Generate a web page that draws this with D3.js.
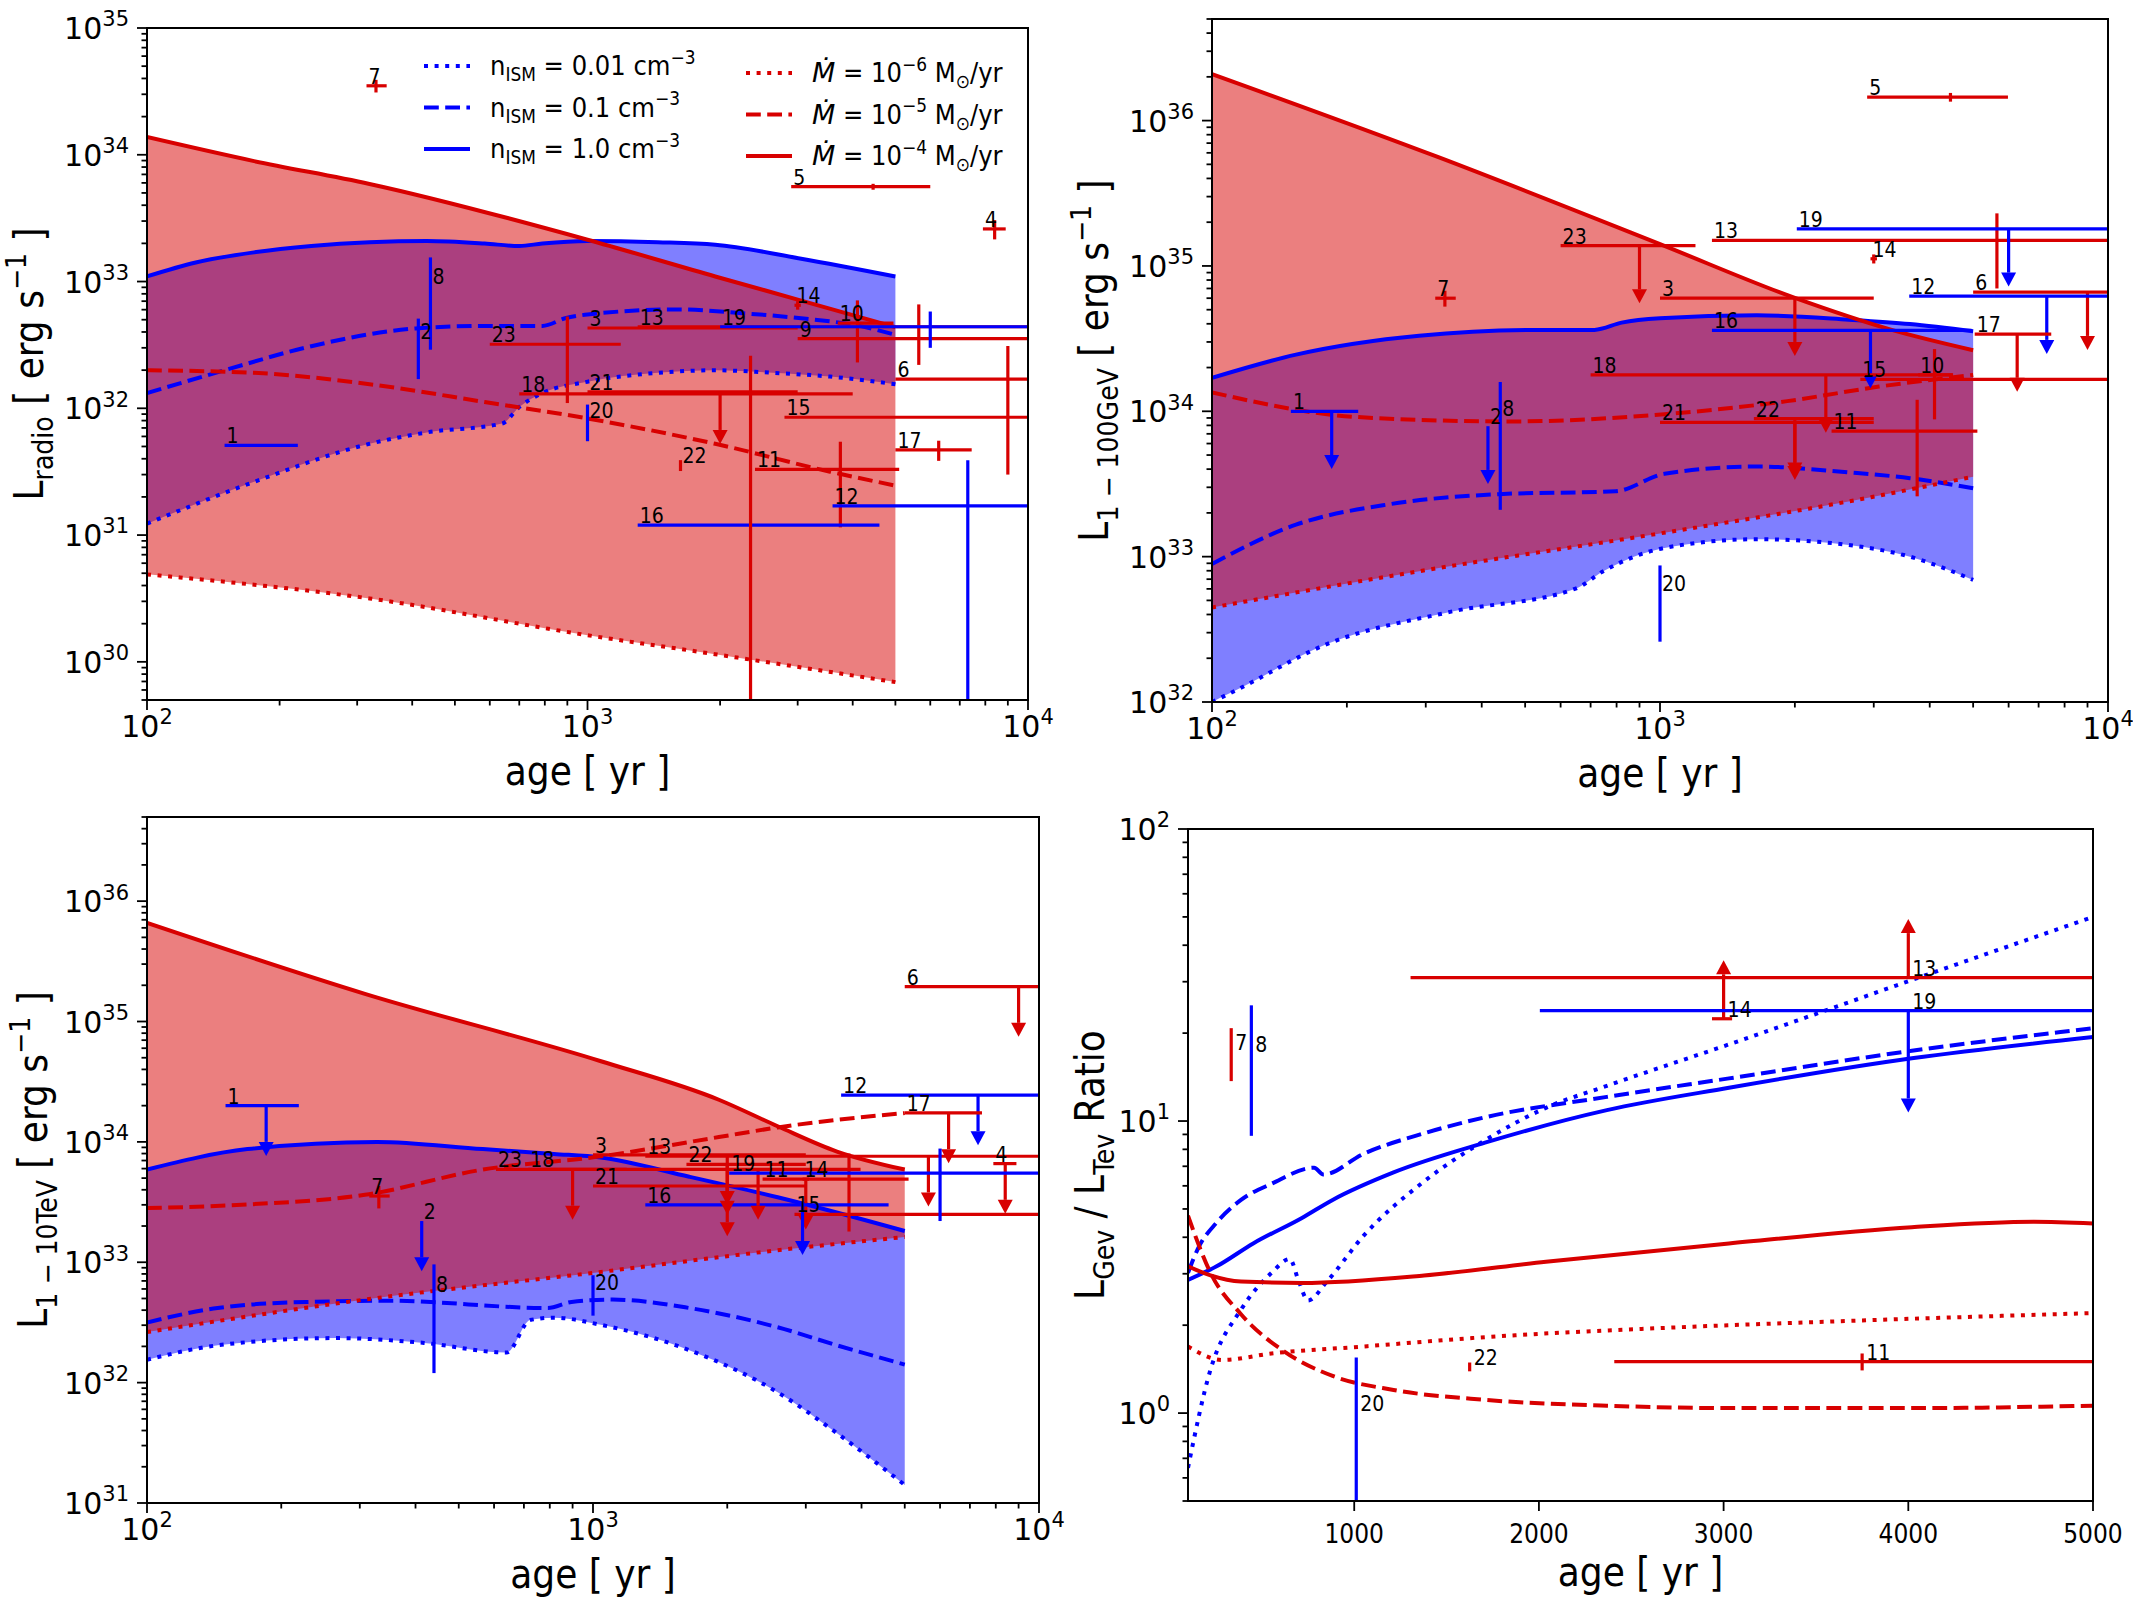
<!DOCTYPE html>
<html><head><meta charset="utf-8">
<script src="https://cdnjs.cloudflare.com/ajax/libs/d3/7.8.5/d3.min.js"></script>
<style>html,body{margin:0;padding:0;background:#fff}</style>
</head><body>
<svg id="fig" width="2133" height="1600" xmlns="http://www.w3.org/2000/svg"></svg>
<script>
// ================= DATA =================
// Model curves, panels 1-3: [age (yr), log10 L (erg/s)]
const radioN001 = [[100,31.09],[175,31.42],[320,31.72],[432,31.81],[640,31.88],[700,32.01],[790,32.12],[1000,32.21],[1444,32.28],[1950,32.30],[2635,32.28],[3555,32.25],[5000,32.19]];
const radioN01  = [[100,32.12],[150,32.30],[236,32.49],[407,32.63],[584,32.65],[790,32.65],[890,32.71],[1000,32.74],[1600,32.78],[2250,32.75],[3056,32.71],[4140,32.65],[5000,32.58]];
const radioN1   = [[100,33.04],[129,33.15],[175,33.23],[236,33.28],[320,33.31],[432,33.32],[584,33.30],[700,33.28],[790,33.30],[1000,33.32],[1444,33.31],[1950,33.29],[3056,33.18],[5000,33.04]];
const radioM6   = [[100,30.69],[320,30.50],[1000,30.21],[1950,30.06],[5000,29.84]];
const radioM5   = [[100,32.30],[175,32.28],[320,32.19],[584,32.05],[1000,31.92],[1950,31.72],[3555,31.50],[5000,31.39]];
const radioM4   = [[100,34.14],[175,33.95],[320,33.77],[1000,33.33],[1950,33.04],[3056,32.85],[5000,32.64]];

const gevN001 = [[100,32.00],[113,32.08],[181,32.40],[340,32.62],[648,32.78],[747,32.90],[1023,33.06],[1644,33.12],[2636,33.08],[3613,33.00],[5000,32.84]];
const gevN01  = [[100,32.95],[154,33.22],[248,33.36],[437,33.43],[796,33.45],[1023,33.57],[1644,33.62],[2636,33.58],[3613,33.54],[5000,33.47]];
const gevN1   = [[100,34.23],[154,34.39],[290,34.52],[545,34.56],[714,34.56],[821,34.61],[1000,34.64],[1644,34.66],[2636,34.63],[3613,34.60],[5000,34.55]];
const gevM6   = [[100,32.65],[290,32.90],[1000,33.16],[2636,33.38],[5000,33.55]];
const gevM5   = [[100,34.13],[212,33.96],[466,33.93],[1023,33.98],[1923,34.07],[3083,34.17],[5000,34.25]];
const gevM4   = [[100,36.32],[319,35.75],[1000,35.15],[2000,34.78],[3290,34.56],[5000,34.42]];

const tevN001 = [[100,32.19],[144,32.31],[265,32.37],[418,32.33],[640,32.25],[723,32.52],[817,32.54],[1042,32.48],[1644,32.27],[2594,31.92],[3524,31.58],[5000,31.15]];
const tevN01  = [[100,32.50],[144,32.62],[227,32.67],[349,32.68],[792,32.62],[895,32.67],[1107,32.69],[1644,32.62],[2594,32.46],[3524,32.31],[5000,32.15]];
const tevN1   = [[100,33.77],[168,33.94],[328,34.00],[566,33.94],[817,33.90],[1042,33.87],[1644,33.71],[2594,33.54],[5000,33.26]];
const tevM6   = [[100,32.42],[308,32.69],[1042,32.92],[2594,33.10],[5000,33.21]];
const tevM5   = [[100,33.45],[168,33.48],[308,33.56],[566,33.77],[1042,33.88],[1915,34.04],[2594,34.12],[5000,34.24]];
const tevM4   = [[100,35.82],[308,35.23],[1042,34.67],[1915,34.35],[2594,34.13],[3524,33.92],[5000,33.77]];

// Panel 4: [age (yr), L_GeV / L_TeV]
const ratioN001 = [[100,0.65],[222,1.41],[387,2.26],[552,3.02],[651,3.37],[701,2.81],[750,2.43],[850,2.81],[1048,4.03],[1378,6.21],[1708,8.59],[2038,11.1],[2368,13.2],[3029,18.3],[4019,30.4],[5000,50.0]];
const ratioN01  = [[100,3.02],[156,3.68],[255,4.49],[387,5.37],[552,6.10],[783,6.92],[833,6.56],[1048,7.71],[1378,9.08],[1708,10.3],[2368,12.1],[3029,14.0],[4019,17.4],[5000,20.8]];
const ratioN1   = [[100,2.86],[255,3.18],[453,3.81],[717,4.66],[883,5.37],[1213,6.67],[1708,8.43],[2368,10.9],[3029,13.0],[4019,16.4],[5000,19.4]];
const ratioM6   = [[100,1.69],[288,1.52],[552,1.60],[1048,1.69],[1708,1.82],[2699,1.96],[3689,2.07],[5000,2.20]];
const ratioM5   = [[100,4.74],[222,3.02],[387,2.18],[618,1.63],[883,1.34],[1213,1.20],[1708,1.11],[2368,1.06],[3029,1.04],[4019,1.04],[5000,1.06]];
const ratioM4   = [[100,3.18],[222,2.96],[387,2.82],[717,2.79],[1378,2.96],[2038,3.30],[3029,3.81],[4019,4.33],[4680,4.52],[5000,4.46]];

// Observed SNe: id, colour, age, age range [lo,hi], value, symmetric error, limit type
const radioPoints = [
 {id:1,c:'b',age:185,lo:150,hi:220,v:5.1e31,err:0},
 {id:2,c:'b',age:413,lo:413,hi:413,v:3.4e32,err:1.7e32},
 {id:3,c:'r',age:2000,lo:1000,hi:3000,v:4.3e32,err:0},
 {id:4,c:'r',age:8400,lo:7900,hi:8900,v:2.6e33,err:0.45e33},
 {id:5,c:'r',age:4450,lo:2900,hi:6000,v:5.6e33,err:0.3e33},
 {id:6,c:'r',age:9000,lo:5000,hi:20000,v:1.7e32,err:1.4e32},
 {id:7,c:'r',age:331,lo:315,hi:350,v:3.5e34,err:0.4e34},
 {id:8,c:'b',age:440,lo:440,hi:440,v:9.2e32,err:6.3e32},
 {id:9,c:'r',age:12000,lo:3000,hi:20000,v:3.55e32,err:0},
 {id:10,c:'r',age:4100,lo:3700,hi:4950,v:4.7e32,err:2.4e32},
 {id:11,c:'r',age:3750,lo:2400,hi:5100,v:3.3e31,err:2.15e31},
 {id:12,c:'b',age:7300,lo:3600,hi:20000,v:1.7e31,err:2.2e31},
 {id:13,c:'r',age:5650,lo:1300,hi:20000,v:4.4e32,err:2.2e32},
 {id:14,c:'r',age:3000,lo:2950,hi:3050,v:6.5e32,err:0.5e32},
 {id:15,c:'r',age:12000,lo:2800,hi:20000,v:8.5e31,err:0},
 {id:16,c:'b',age:2950,lo:1300,hi:4600,v:1.2e31,err:0},
 {id:17,c:'r',age:6270,lo:5000,hi:7450,v:4.7e31,err:0.85e31},
 {id:18,c:'r',age:2345,lo:700,hi:4000,v:1.3e32,err:1.3e32},
 {id:19,c:'b',age:6000,lo:2000,hi:20000,v:4.4e32,err:1.4e32},
 {id:20,c:'b',age:1000,lo:1000,hi:1000,v:8.1e31,err:2.6e31},
 {id:21,c:'r',age:2000,lo:1000,hi:3000,v:1.35e32,err:0,lim:'ul'},
 {id:22,c:'r',age:1626,lo:1626,hi:1626,v:3.55e31,err:0.35e31},
 {id:23,c:'r',age:900,lo:600,hi:1190,v:3.2e32,err:2.1e32}
];
const gevPoints = [
 {id:1,c:'b',age:185,lo:150,hi:212,v:1.0e34,err:0,lim:'ul'},
 {id:2,c:'b',age:413,lo:413,hi:413,v:7.9e33,err:0,lim:'ul'},
 {id:3,c:'r',age:2000,lo:1000,hi:3000,v:6.0e34,err:0,lim:'ul'},
 {id:5,c:'r',age:4450,lo:2900,hi:5980,v:1.45e36,err:0.1e36},
 {id:6,c:'r',age:9000,lo:5000,hi:20000,v:6.6e34,err:0,lim:'ul'},
 {id:7,c:'r',age:331,lo:315,hi:350,v:6.0e34,err:0.75e34},
 {id:8,c:'b',age:440,lo:440,hi:440,v:9.0e33,err:6.9e33},
 {id:10,c:'r',age:4100,lo:3770,hi:4500,v:1.78e34,err:0.9e34},
 {id:11,c:'r',age:3750,lo:2415,hi:5110,v:7.3e33,err:4.7e33},
 {id:12,c:'b',age:7300,lo:3600,hi:20000,v:6.2e34,err:0,lim:'ul'},
 {id:13,c:'r',age:5650,lo:1306,hi:20000,v:1.5e35,err:0.8e35},
 {id:14,c:'r',age:3000,lo:2950,hi:3050,v:1.12e35,err:0.08e35},
 {id:15,c:'r',age:12000,lo:2800,hi:20000,v:1.66e34,err:0},
 {id:16,c:'b',age:2950,lo:1306,hi:4960,v:3.6e34,err:0,lim:'ul'},
 {id:17,c:'r',age:6270,lo:5040,hi:7470,v:3.4e34,err:0,lim:'ul'},
 {id:18,c:'r',age:2345,lo:700,hi:4510,v:1.78e34,err:0,lim:'ul'},
 {id:19,c:'b',age:6000,lo:2020,hi:20000,v:1.8e35,err:0,lim:'ul'},
 {id:20,c:'b',age:1000,lo:1000,hi:1000,v:5.65e32,err:3.05e32},
 {id:21,c:'r',age:2000,lo:1000,hi:3000,v:8.4e33,err:0,lim:'ul'},
 {id:22,c:'r',age:2000,lo:1620,hi:3000,v:8.9e33,err:0,lim:'ul'},
 {id:23,c:'r',age:900,lo:600,hi:1200,v:1.38e35,err:0,lim:'ul'}
];
const tevPoints = [
 {id:1,c:'b',age:185,lo:150,hi:219,v:2.0e34,err:0,lim:'ul'},
 {id:2,c:'b',age:413,lo:413,hi:413,v:2.2e33,err:0,lim:'ul'},
 {id:3,c:'r',age:2000,lo:1000,hi:3000,v:7.8e33,err:0,lim:'ul'},
 {id:4,c:'r',age:8400,lo:7900,hi:8900,v:6.6e33,err:0,lim:'ul'},
 {id:6,c:'r',age:9000,lo:5000,hi:20000,v:1.95e35,err:0,lim:'ul'},
 {id:7,c:'r',age:331,lo:315,hi:350,v:3.55e33,err:0.75e33},
 {id:8,c:'b',age:440,lo:440,hi:440,v:5.4e32,err:4.2e32},
 {id:11,c:'r',age:3750,lo:2400,hi:5100,v:4.9e33,err:3.1e33},
 {id:12,c:'b',age:7300,lo:3600,hi:20000,v:2.45e34,err:0,lim:'ul'},
 {id:13,c:'r',age:5650,lo:1310,hi:20000,v:7.6e33,err:0,lim:'ul'},
 {id:14,c:'r',age:3000,lo:2950,hi:3050,v:4.9e33,err:0,lim:'ul'},
 {id:15,c:'r',age:12000,lo:2830,hi:20000,v:2.5e33,err:0},
 {id:16,c:'b',age:2950,lo:1310,hi:4600,v:3.0e33,err:0,lim:'ul'},
 {id:17,c:'r',age:6270,lo:5000,hi:7450,v:1.74e34,err:0,lim:'ul'},
 {id:18,c:'r',age:2345,lo:716,hi:3980,v:5.9e33,err:0,lim:'ul'},
 {id:19,c:'b',age:6000,lo:2020,hi:20000,v:5.5e33,err:3.3e33},
 {id:20,c:'b',age:1000,lo:1000,hi:1000,v:5.7e32,err:2.1e32},
 {id:21,c:'r',age:2000,lo:1000,hi:3000,v:4.3e33,err:0,lim:'ul'},
 {id:22,c:'r',age:2000,lo:1620,hi:3000,v:6.5e33,err:0,lim:'ul'},
 {id:23,c:'r',age:900,lo:606,hi:1190,v:5.9e33,err:0,lim:'ul'}
];
const ratioPoints = [
 {id:7,c:'r',age:334,lo:334,hi:334,v:17.25,err:3.55},
 {id:8,c:'b',age:443,lo:443,hi:443,v:16.9,err:8.0},
 {id:11,c:'r',age:3750,lo:2408,hi:5100,v:1.50,err:0.1},
 {id:13,c:'r',age:4000,lo:1305,hi:20000,v:31.0,err:0,lim:'ll'},
 {id:14,c:'r',age:3000,lo:2937,hi:3046,v:22.4,err:0,lim:'ll'},
 {id:19,c:'b',age:4000,lo:2005,hi:20000,v:23.9,err:0,lim:'ul'},
 {id:20,c:'b',age:1011,lo:1011,hi:1011,v:1.0,err:0.55},
 {id:22,c:'r',age:1625,lo:1625,hi:1625,v:1.44,err:0.05}
];

// tick values / labels
const ageTicksLinear = [1000,2000,3000,4000,5000];
const legendItems = [
 {col:0,row:0,c:'b',style:'dot',  parts:[['n'],['ISM','sub'],[' = 0.01 cm'],['−3','sup']]},
 {col:0,row:1,c:'b',style:'dash', parts:[['n'],['ISM','sub'],[' = 0.1 cm'],['−3','sup']]},
 {col:0,row:2,c:'b',style:'solid',parts:[['n'],['ISM','sub'],[' = 1.0 cm'],['−3','sup']]},
 {col:1,row:0,c:'r',style:'dot',  parts:[['Ṁ','it'],[' = 10'],['−6','sup'],[' M'],['⊙','sub'],['/yr']]},
 {col:1,row:1,c:'r',style:'dash', parts:[['Ṁ','it'],[' = 10'],['−5','sup'],[' M'],['⊙','sub'],['/yr']]},
 {col:1,row:2,c:'r',style:'solid',parts:[['Ṁ','it'],[' = 10'],['−4','sup'],[' M'],['⊙','sub'],['/yr']]}
];

// ================= STYLE =================
const COL = {r:'#d80000', b:'#0000ff'};
const FILL = {r:'rgba(216,0,0,0.5)', b:'rgba(0,0,255,0.5)'};
const LW = 4, EW = 3.2;
const DASH = {dot:'4,6.6', dash:'14.8,6.4', solid:null};
function hasFont(name){
  const c=document.createElement('canvas').getContext('2d');
  const t='age [ yr ] 1000 mmwwii';
  c.font='40px monospace'; const a=c.measureText(t).width;
  c.font='40px "'+name+'", monospace'; const b=c.measureText(t).width;
  return Math.abs(a-b)>0.5;
}
const condOK = hasFont('DejaVu Sans Condensed');
const FONT_C = condOK ? '"DejaVu Sans Condensed"' : '"DejaVu Sans"';
const FONT_M = '"DejaVu Sans"';

const svg = d3.select('#fig');

function rich(sel, parts, fs){
  let shift=0;
  parts.forEach(([t,k])=>{
    let target=0, size=fs;
    if(k==='sub'){target=0.24*fs; size=0.7*fs;}
    if(k==='sup'){target=-0.42*fs; size=0.7*fs;}
    const ts=sel.append('tspan').text(t).attr('font-size',size);
    if(target-shift!==0) ts.attr('dy',target-shift);
    if(k==='it') ts.attr('font-style','italic').attr('font-family',FONT_M);
    shift=target;
  });
}

const panels = [
 {name:'p1', x0:147, x1:1028, y0:28, y1:700, xlog:true, xd:[100,1e4], yd:[5e29,1e35], logv:true, fill:true,
  curves:{n001:radioN001,n01:radioN01,n1:radioN1,m6:radioM6,m5:radioM5,m4:radioM4},
  points:radioPoints, labelAt:'lo', ylab:[['L'],['radio','sub'],[' [ erg s'],['−1','sup'],[' ]']], ylabX:43, legend:true},
 {name:'p2', x0:1212, x1:2108, y0:19, y1:702, xlog:true, xd:[100,1e4], yd:[1e32,5e36], logv:true, fill:true,
  curves:{n001:gevN001,n01:gevN01,n1:gevN1,m6:gevM6,m5:gevM5,m4:gevM4},
  points:gevPoints, labelAt:'lo', ylab:[['L'],['1 − 100GeV','sub'],[' [ erg s'],['−1','sup'],[' ]']], ylabX:1108},
 {name:'p3', x0:147, x1:1039, y0:817, y1:1503, xlog:true, xd:[100,1e4], yd:[1e31,5e36], logv:true, fill:true,
  curves:{n001:tevN001,n01:tevN01,n1:tevN1,m6:tevM6,m5:tevM5,m4:tevM4},
  points:tevPoints, labelAt:'lo', ylab:[['L'],['1 − 10TeV','sub'],[' [ erg s'],['−1','sup'],[' ]']], ylabX:47},
 {name:'p4', x0:1188, x1:2093, y0:829, y1:1501, xlog:false, xd:[100,5000], yd:[0.5,100], logv:false, fill:false,
  curves:{n001:ratioN001,n01:ratioN01,n1:ratioN1,m6:ratioM6,m5:ratioM5,m4:ratioM4},
  points:ratioPoints, labelAt:'age', ylab:[['L'],['Gev','sub'],[' / L'],['Tev','sub'],[' Ratio']], ylabX:1104}
];

function logTicks(d){
  const majors=[], minors=[];
  const lo=Math.floor(Math.log10(d[0])-1e-9), hi=Math.ceil(Math.log10(d[1])+1e-9);
  for(let e=lo;e<=hi;e++){
    const v=Math.pow(10,e);
    if(v>=d[0]*0.999 && v<=d[1]*1.001) majors.push(e);
    for(let k=2;k<=9;k++){const m=k*v; if(m>=d[0]*0.999 && m<=d[1]*1.001) minors.push(m);}
  }
  return {majors,minors};
}

panels.forEach(P=>{
  const g=svg.append('g');
  const x=(P.xlog?d3.scaleLog():d3.scaleLinear()).domain(P.xd).range([P.x0,P.x1]);
  const y=d3.scaleLog().domain(P.yd).range([P.y1,P.y0]);
  const val = P.logv ? (v=>Math.pow(10,v)) : (v=>v);
  const clipId='clip-'+P.name;
  svg.append('clipPath').attr('id',clipId).append('rect')
    .attr('x',P.x0).attr('y',P.y0).attr('width',P.x1-P.x0).attr('height',P.y1-P.y0);
  const plot=g.append('g').attr('clip-path','url(#'+clipId+')');
  const line=d3.line().x(d=>x(d[0])).y(d=>y(val(d[1]))).curve(d3.curveMonotoneX);
  const C=P.curves;
  if(P.fill){
    [['b',C.n001,C.n1],['r',C.m6,C.m4]].forEach(([c,lower,upper])=>{
      const up=line(upper);
      const lowRev=line(lower.slice().reverse()).replace(/^M/,'L');
      plot.append('path').attr('d',up+lowRev+'Z').attr('fill',FILL[c]).attr('stroke','none');
    });
  }
  [['b','dot',C.n001],['b','dash',C.n01],['b','solid',C.n1],['r','dot',C.m6],['r','dash',C.m5],['r','solid',C.m4]]
   .forEach(([c,st,data])=>{
    const p=plot.append('path').attr('d',line(data)).attr('fill','none')
      .attr('stroke',COL[c]).attr('stroke-width',LW).attr('stroke-linejoin','round');
    if(DASH[st]) p.attr('stroke-dasharray',DASH[st]);
  });
  // observed points
  const labG=g.append('g');
  P.points.forEach(p=>{
    const col=COL[p.c];
    const py=y(p.v), px=x(p.age);
    const seg=(x1,y1,x2,y2)=>plot.append('line').attr('x1',x1).attr('y1',y1).attr('x2',x2).attr('y2',y2)
        .attr('stroke',col).attr('stroke-width',EW);
    if(p.hi>p.lo) seg(x(p.lo),py,x(p.hi),py);
    if(p.err>0){
      const top=y(p.v+p.err);
      const bot=(p.v-p.err>0)?y(p.v-p.err):P.y1+20;
      seg(px,top,px,bot);
    }
    if(p.lim==='ul'){
      const e=y(p.v*0.5);
      seg(px,py,px,e);
      plot.append('path').attr('d',`M${px-7.5},${e}L${px+7.5},${e}L${px},${e+14}Z`).attr('fill',col);
    }
    if(p.lim==='ll'){
      const e=y(p.v*1.42);
      seg(px,py,px,e);
      plot.append('path').attr('d',`M${px-7.5},${e}L${px+7.5},${e}L${px},${e-14}Z`).attr('fill',col);
    }
    const lx = P.labelAt==='lo' ? x(p.lo)+2 : px+4;
    labG.append('text').attr('class','cond').attr('x',lx).attr('y',py-2)
      .attr('font-family',FONT_C).attr('font-size',21).attr('fill','#000').text(p.id);
  });
  // spines
  g.append('rect').attr('x',P.x0).attr('y',P.y0).attr('width',P.x1-P.x0).attr('height',P.y1-P.y0)
    .attr('fill','none').attr('stroke','#000').attr('stroke-width',2);
  const tk=(x1,y1,x2,y2)=>g.append('line').attr('x1',x1).attr('y1',y1).attr('x2',x2).attr('y2',y2)
    .attr('stroke','#000').attr('stroke-width',1.8);
  // y ticks (log)
  const yt=logTicks(P.yd);
  yt.minors.forEach(m=>tk(P.x0-5.5,y(m),P.x0,y(m)));
  yt.majors.forEach(e=>{
    const yy=y(Math.pow(10,e));
    tk(P.x0-10,yy,P.x0,yy);
    const t=g.append('text').attr('x',P.x0-18).attr('y',yy+11).attr('text-anchor','end')
      .attr('font-family',FONT_M).attr('fill','#000');
    rich(t,[['10'],[String(e),'sup']],30);
  });
  // x ticks
  if(P.xlog){
    const xt=logTicks(P.xd);
    xt.minors.forEach(m=>tk(x(m),P.y1,x(m),P.y1+5.5));
    xt.majors.forEach(e=>{
      const xx=x(Math.pow(10,e));
      tk(xx,P.y1,xx,P.y1+10);
      const t=g.append('text').attr('x',xx).attr('y',P.y1+37).attr('text-anchor','middle')
        .attr('font-family',FONT_M).attr('fill','#000');
      rich(t,[['10'],[String(e),'sup']],30);
    });
  } else {
    ageTicksLinear.forEach(v=>{
      const xx=x(v);
      tk(xx,P.y1,xx,P.y1+10);
      g.append('text').attr('class','cond').attr('x',xx).attr('y',P.y1+42).attr('text-anchor','middle')
        .attr('font-family',FONT_C).attr('font-size',26).attr('fill','#000').text(v);
    });
  }
  // axis labels
  g.append('text').attr('class','cond').attr('x',(P.x0+P.x1)/2).attr('y',P.y1+85).attr('text-anchor','middle')
    .attr('font-family',FONT_C).attr('font-size',40).attr('fill','#000').text('age [ yr ]');
  const yl=g.append('text').attr('class','cond').attr('text-anchor','middle')
    .attr('transform',`translate(${P.ylabX},${(P.y0+P.y1)/2}) rotate(-90)`)
    .attr('font-family',FONT_C).attr('fill','#000');
  rich(yl,P.ylab,40);
  // legend
  if(P.legend){
    const lx=[424,746], ly=[66,73], dy=41.5;
    legendItems.forEach(it=>{
      const yy=ly[it.col]+it.row*dy, xx=lx[it.col];
      const l=g.append('line').attr('x1',xx).attr('x2',xx+46).attr('y1',yy).attr('y2',yy)
        .attr('stroke',COL[it.c]).attr('stroke-width',LW);
      if(DASH[it.style]) l.attr('stroke-dasharray',DASH[it.style]);
      const t=g.append('text').attr('class','cond').attr('x',xx+66).attr('y',yy+9)
        .attr('font-family',FONT_C).attr('fill','#000');
      rich(t,it.parts,27);
    });
  }
});

if(!condOK){
  document.querySelectorAll('text.cond').forEach(n=>{
    const L=n.getComputedTextLength();
    if(L>0){n.setAttribute('textLength',(L*0.9).toFixed(1));n.setAttribute('lengthAdjust','spacingAndGlyphs');}
  });
}
</script></body></html>
